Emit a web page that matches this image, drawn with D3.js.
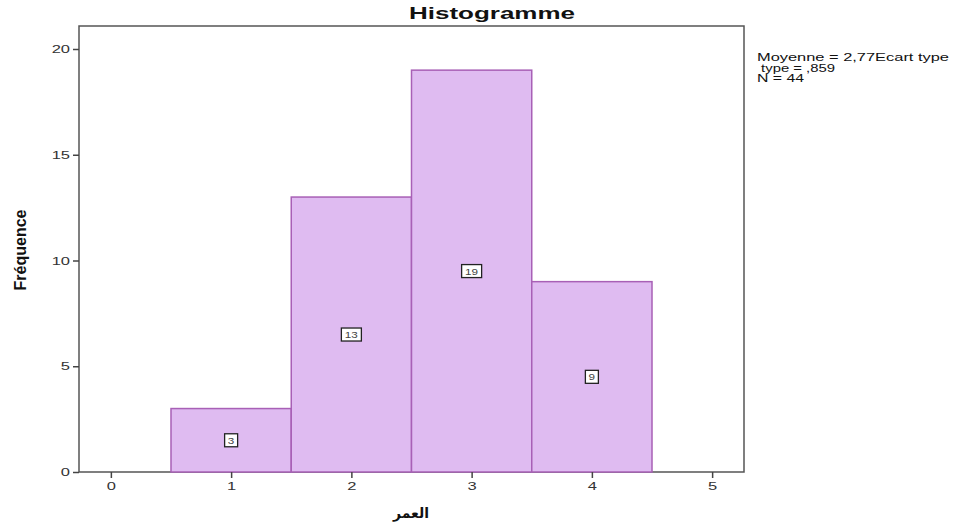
<!DOCTYPE html>
<html><head><meta charset="utf-8">
<script src="https://cdn.jsdelivr.net/npm/d3@7"></script>
<style>body{margin:0;background:#fff;} text{font-family:Arial,"Liberation Sans",sans-serif;}</style>
</head><body>
<svg id="c" width="963" height="526"></svg>
<script>
const binStarts = [0.5, 1.5, 2.5, 3.5];
const counts = [3, 13, 19, 9];
const xTicks = [0, 1, 2, 3, 4, 5];
const yTicks = [0, 5, 10, 15, 20];
const legendLines = ["Moyenne = 2,77Ecart type", " type = ,859", "N = 44"];

const svg = d3.select("#c");
const L = 79, R = 744, T = 26, B = 472;
const x = d3.scaleLinear().domain([-0.265, 5.265]).range([L, R]);
const y = d3.scaleLinear().domain([0, 20]).range([B, 49]);

function stretch(sel, f) {
  sel.each(function () {
    const len = this.getComputedTextLength();
    d3.select(this).attr("textLength", len * f).attr("lengthAdjust", "spacingAndGlyphs");
  });
}

svg.append("rect").attr("x", L).attr("y", T).attr("width", R - L).attr("height", B - T)
  .attr("fill", "#fff").attr("stroke", "#555").attr("stroke-width", 1.5);

svg.selectAll("rect.bar").data(counts).enter().append("rect").attr("class", "bar")
  .attr("x", (d, i) => x(binStarts[i])).attr("width", (d, i) => x(binStarts[i] + 1) - x(binStarts[i]))
  .attr("y", d => y(d)).attr("height", d => B - y(d))
  .attr("fill", "#dfbbf1").attr("stroke", "#a860b6").attr("stroke-width", 1.5);

// value boxes
counts.forEach((d, i) => {
  const cx = x(binStarts[i] + 0.5), cy = y(d / 2);
  const w = String(d).length > 1 ? 20 : 13;
  svg.append("rect").attr("x", cx - w / 2).attr("y", cy - 6.5).attr("width", w).attr("height", 13)
    .attr("fill", "#fff").attr("stroke", "#222").attr("stroke-width", 1.3);
  const t = svg.append("text").attr("x", cx).attr("y", cy + 3.5).attr("text-anchor", "middle")
    .attr("font-size", 9).attr("fill", "#444").text(d);
  stretch(t, 1.3);
});

const yAxis = d3.axisLeft(y).tickValues(yTicks).tickSize(6).tickPadding(3).tickFormat(d3.format("d"));
const gy = svg.append("g").attr("transform", `translate(${L},0)`).call(yAxis);
const xAxis = d3.axisBottom(x).tickValues(xTicks).tickSize(6).tickPadding(4).tickFormat(d3.format("d"));
const gx = svg.append("g").attr("transform", `translate(0,${B})`).call(xAxis);
[gy, gx].forEach(g => {
  g.select(".domain").remove();
  g.selectAll("line").attr("stroke", "#444").attr("stroke-width", 1.5);
  g.selectAll("text").attr("font-size", 11).attr("fill", "#333").attr("font-family", "Arial,Liberation Sans,sans-serif");
  stretch(g.selectAll("text"), 1.5);
});

const title = svg.append("text").attr("x", 492).attr("y", 19).attr("text-anchor", "middle")
  .attr("font-size", 16).attr("font-weight", "bold").attr("fill", "#111").text("Histogramme");
title.attr("textLength", 166).attr("lengthAdjust", "spacingAndGlyphs");

svg.append("text").attr("transform", "translate(26,250) rotate(-90)").attr("text-anchor", "middle")
  .attr("font-size", 16).attr("font-weight", "bold").attr("fill", "#111")
  .style("font-family", "'Arial Narrow','Liberation Sans Narrow',Arial,sans-serif").text("Fréquence");

svg.append("text").attr("x", 411).attr("y", 518).attr("text-anchor", "middle")
  .attr("font-size", 14).attr("font-weight", "bold").attr("fill", "#111")
  .style("font-family", "'DejaVu Sans',Arial,sans-serif").text("العمر");

const legLens = [192, 78, 47];
svg.selectAll("text.leg").data(legendLines).enter().append("text").attr("class", "leg")
  .attr("x", 757).attr("y", (d, i) => 61 + i * 10.5).attr("font-size", 10).attr("fill", "#111")
  .attr("xml:space", "preserve").style("white-space", "pre")
  .attr("textLength", (d, i) => legLens[i]).attr("lengthAdjust", "spacingAndGlyphs")
  .text(d => d);
</script>
</body></html>
